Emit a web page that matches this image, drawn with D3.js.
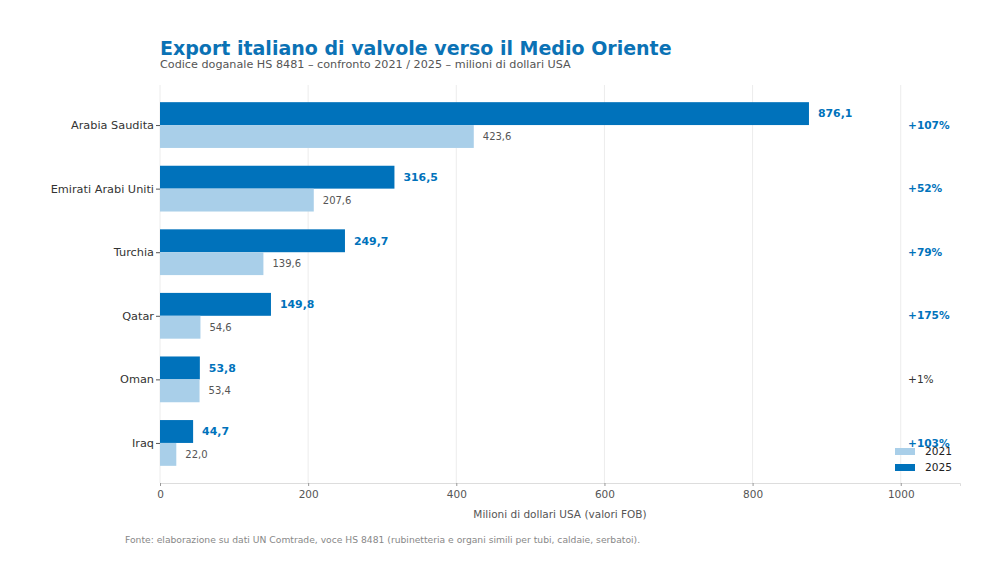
<!DOCTYPE html>
<html>
<head>
<meta charset="utf-8">
<script src="https://cdn.jsdelivr.net/npm/d3@7"></script>
<style>
  body { margin: 0; background: #fff; }
  svg { font-family: "DejaVu Sans", sans-serif; }
</style>
</head>
<body>
<svg id="chart" width="1000" height="562"></svg>
<script>
// Data
const countries = ['Arabia Saudita', 'Emirati Arabi Uniti', 'Turchia', 'Qatar', 'Oman', 'Iraq'];
const values2021 = [423.6, 207.6, 139.6, 54.6, 53.4, 22.0];
const values2025 = [876.1, 316.5, 249.7, 149.8, 53.8, 44.7];
const growthLabels = ['+107%', '+52%', '+79%', '+175%', '+1%', '+103%'];
const xTicks = [0, 200, 400, 600, 800, 1000];

const dark = '#0072bb';
const light = '#a9cfe9';

const svg = d3.select('#chart');
const margin = {top: 85, left: 160, right: 40, bottom: 79};
const width = 1000, height = 562;

const x = d3.scaleLinear().domain([0, 1080]).range([margin.left, width - margin.right]);
// category positions 0..5 with some padding above and below
const y = d3.scaleLinear().domain([-0.63, 5.63]).range([margin.top, height - margin.bottom]);
const unit = y(1) - y(0);
const barH = 0.36 * unit;

// Gridlines
svg.append('g').selectAll('line').data(xTicks).join('line')
    .attr('x1', d => x(d)).attr('x2', d => x(d))
    .attr('y1', margin.top).attr('y2', height - margin.bottom)
    .attr('stroke', '#ececec').attr('stroke-width', 1);

const rows = countries.map((c, i) => ({c, i, v21: values2021[i], v25: values2025[i], g: growthLabels[i]}));

// Bars: 2025 above the category line, 2021 below
svg.append('g').selectAll('rect').data(rows).join('rect')
    .attr('x', x(0)).attr('y', d => y(d.i) - barH)
    .attr('width', d => x(d.v25) - x(0)).attr('height', barH)
    .attr('fill', dark);

svg.append('g').selectAll('rect').data(rows).join('rect')
    .attr('x', x(0)).attr('y', d => y(d.i))
    .attr('width', d => x(d.v21) - x(0)).attr('height', barH)
    .attr('fill', light);

const fmt = v => v.toFixed(1).replace('.', ',');

// Value labels
svg.append('g').selectAll('text').data(rows).join('text')
    .attr('x', d => x(d.v25) + 9).attr('y', d => y(d.i) - barH / 2)
    .attr('dy', '0.35em').attr('font-size', 10.9).attr('font-weight', 'bold')
    .attr('fill', dark).text(d => fmt(d.v25));

svg.append('g').selectAll('text').data(rows).join('text')
    .attr('x', d => x(d.v21) + 9).attr('y', d => y(d.i) + barH / 2)
    .attr('dy', '0.35em').attr('font-size', 10)
    .attr('fill', '#555').text(d => fmt(d.v21));

// Growth labels
svg.append('g').selectAll('text').data(rows).join('text')
    .attr('x', 908).attr('y', d => y(d.i))
    .attr('dy', '0.35em').attr('font-size', 10.6)
    .attr('font-weight', d => d.g === '+1%' ? 'normal' : 'bold')
    .attr('fill', d => d.g === '+1%' ? '#333' : dark)
    .text(d => d.g);

// Y axis (ticks + labels, no spine)
const yAxis = svg.append('g').attr('transform', `translate(${margin.left},0)`)
    .call(d3.axisLeft(y).tickValues(d3.range(countries.length)).tickFormat(i => countries[i]).tickSize(4).tickPadding(2));
yAxis.select('.domain').remove();
yAxis.selectAll('line').attr('stroke', '#555');
yAxis.selectAll('text').attr('font-size', 11.3).attr('fill', '#333').attr('font-family', '"DejaVu Sans", sans-serif');

// X axis
const xAxis = svg.append('g').attr('transform', `translate(0,${height - margin.bottom})`)
    .call(d3.axisBottom(x).tickValues(xTicks).tickFormat(d3.format('d')).tickSize(3).tickPadding(5));
xAxis.select('.domain').attr('stroke', '#dddddd');
xAxis.selectAll('line').attr('stroke', '#999');
xAxis.selectAll('text').attr('font-size', 10.5).attr('fill', '#555').attr('font-family', '"DejaVu Sans", sans-serif');

svg.append('text').attr('x', 560).attr('y', 518).attr('text-anchor', 'middle')
    .attr('font-size', 10.5).attr('fill', '#555')
    .text('Milioni di dollari USA (valori FOB)');

// Title & subtitle
svg.append('text').attr('x', 160).attr('y', 55)
    .attr('font-size', 19).attr('font-weight', 'bold').attr('fill', '#0b72b5')
    .text('Export italiano di valvole verso il Medio Oriente');
svg.append('text').attr('x', 160).attr('y', 68)
    .attr('font-size', 11.2).attr('fill', '#555')
    .text('Codice doganale HS 8481 – confronto 2021 / 2025 – milioni di dollari USA');

// Footer
svg.append('text').attr('x', 125).attr('y', 543)
    .attr('font-size', 9.2).attr('fill', '#888')
    .text('Fonte: elaborazione su dati UN Comtrade, voce HS 8481 (rubinetteria e organi simili per tubi, caldaie, serbatoi).');

// Legend
const legendItems = [{label: '2021', color: light}, {label: '2025', color: dark}];
const lg = svg.append('g').selectAll('g').data(legendItems).join('g')
    .attr('transform', (d, i) => `translate(895,${448 + i * 16})`);
lg.append('rect').attr('width', 20).attr('height', 7).attr('fill', d => d.color);
lg.append('text').attr('x', 30).attr('y', 3.5).attr('dy', '0.35em')
    .attr('font-size', 10.6).attr('fill', '#222').text(d => d.label);
</script>
</body>
</html>
